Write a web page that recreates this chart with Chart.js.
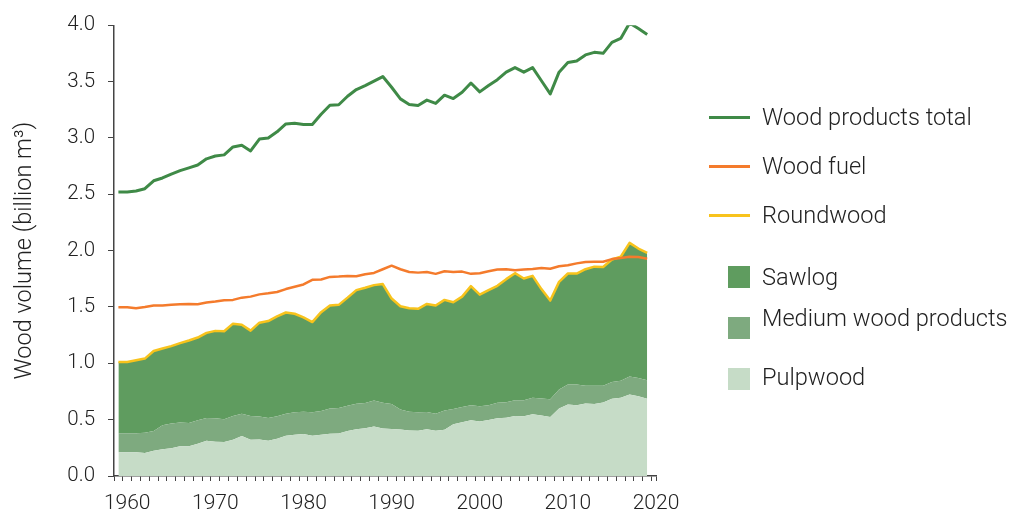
<!DOCTYPE html>
<html>
<head>
<meta charset="utf-8">
<script src="https://cdn.jsdelivr.net/npm/chart.js@4/dist/chart.umd.min.js"></script>
<style>
  html, body { margin: 0; padding: 0; background: #fff; }
  #wrap { position: relative; width: 1024px; height: 512px; font-family: Roboto, "Open Sans", sans-serif; }
  #chart { position: absolute; left: 0; top: 0; }
  .lg { position: absolute; color: #222; font-size: 23.6px; font-weight: 300; line-height: 26px; white-space: nowrap; }
  .sw-line { position: absolute; left: 709px; width: 41px; height: 3px; }
  .sw-box { position: absolute; left: 728px; width: 22px; height: 22px; }
</style>
</head>
<body>
<div id="wrap">
  <canvas id="chart" width="1024" height="512"></canvas>
  <div id="legend"></div>
</div>
<script>
// =====================================================
// DATA (billion m3)
// =====================================================
const years = [1959, 1960, 1961, 1962, 1963, 1964, 1965, 1966, 1967, 1968,
  1969, 1970, 1971, 1972, 1973, 1974, 1975, 1976, 1977, 1978,
  1979, 1980, 1981, 1982, 1983, 1984, 1985, 1986, 1987, 1988,
  1989, 1990, 1991, 1992, 1993, 1994, 1995, 1996, 1997, 1998,
  1999, 2000, 2001, 2002, 2003, 2004, 2005, 2006, 2007, 2008,
  2009, 2010, 2011, 2012, 2013, 2014, 2015, 2016, 2017, 2018, 2019];

const woodProductsTotal = [2.52, 2.52, 2.53, 2.55, 2.62, 2.645, 2.68, 2.71, 2.735, 2.76,
  2.815, 2.84, 2.85, 2.92, 2.935, 2.885, 2.99, 3.00, 3.055, 3.125,
  3.13, 3.12, 3.12, 3.21, 3.29, 3.295, 3.37, 3.43, 3.465, 3.505,
  3.545, 3.45, 3.347, 3.298, 3.289, 3.336, 3.307, 3.38, 3.35, 3.406,
  3.488, 3.409, 3.465, 3.517, 3.584, 3.625, 3.584, 3.625, 3.508, 3.391,
  3.584, 3.669, 3.684, 3.737, 3.76, 3.751, 3.848, 3.883, 4.02, 3.971, 3.918];

const woodFuel = [1.498, 1.498, 1.489, 1.50, 1.513, 1.513, 1.52, 1.525, 1.527, 1.525,
  1.539, 1.548, 1.56, 1.563, 1.583, 1.592, 1.612, 1.621, 1.633, 1.659,
  1.68, 1.70, 1.741, 1.744, 1.767, 1.77, 1.776, 1.773, 1.791, 1.802,
  1.835, 1.867, 1.835, 1.811, 1.805, 1.811, 1.794, 1.817, 1.811, 1.814,
  1.794, 1.80, 1.817, 1.832, 1.835, 1.826, 1.832, 1.838, 1.846, 1.84,
  1.861, 1.87, 1.887, 1.899, 1.902, 1.902, 1.925, 1.934, 1.946, 1.943, 1.928];

const roundwood = [1.012, 1.012, 1.027, 1.042, 1.109, 1.132, 1.153, 1.179, 1.203, 1.229,
  1.27, 1.288, 1.285, 1.352, 1.343, 1.29, 1.361, 1.375, 1.416, 1.451,
  1.44, 1.407, 1.366, 1.454, 1.513, 1.519, 1.583, 1.65, 1.671, 1.694,
  1.703, 1.575, 1.507, 1.489, 1.484, 1.527, 1.513, 1.563, 1.542, 1.592,
  1.685, 1.609, 1.65, 1.688, 1.747, 1.80, 1.753, 1.776, 1.659, 1.557,
  1.723, 1.797, 1.797, 1.835, 1.858, 1.855, 1.922, 1.946, 2.069, 2.019, 1.981];

const pulpwood = [0.21, 0.21, 0.21, 0.205, 0.225, 0.237, 0.246, 0.263, 0.263, 0.287,
  0.313, 0.304, 0.301, 0.322, 0.354, 0.322, 0.325, 0.313, 0.331, 0.357,
  0.366, 0.372, 0.357, 0.366, 0.375, 0.377, 0.40, 0.415, 0.424, 0.439,
  0.421, 0.418, 0.413, 0.404, 0.401, 0.415, 0.401, 0.41, 0.459, 0.477,
  0.495, 0.483, 0.497, 0.512, 0.518, 0.533, 0.53, 0.547, 0.538, 0.524,
  0.60, 0.635, 0.629, 0.644, 0.638, 0.653, 0.685, 0.694, 0.723, 0.708, 0.685];

const mediumWood = [0.17, 0.17, 0.17, 0.178, 0.175, 0.213, 0.219, 0.211, 0.208, 0.208,
  0.202, 0.208, 0.202, 0.211, 0.199, 0.211, 0.202, 0.202, 0.199, 0.196,
  0.199, 0.199, 0.208, 0.21, 0.225, 0.226, 0.223, 0.226, 0.223, 0.231,
  0.229, 0.222, 0.178, 0.167, 0.164, 0.153, 0.152, 0.172, 0.135, 0.135,
  0.134, 0.137, 0.132, 0.138, 0.137, 0.14, 0.143, 0.147, 0.15, 0.158,
  0.167, 0.176, 0.182, 0.158, 0.164, 0.149, 0.149, 0.152, 0.161, 0.161, 0.164];

const sawlog = [0.632, 0.632, 0.647, 0.659, 0.709, 0.682, 0.688, 0.705, 0.732, 0.734,
  0.755, 0.776, 0.782, 0.819, 0.79, 0.757, 0.834, 0.86, 0.886, 0.898,
  0.875, 0.836, 0.801, 0.878, 0.913, 0.916, 0.96, 1.009, 1.024, 1.024,
  1.053, 0.935, 0.916, 0.918, 0.919, 0.959, 0.96, 0.981, 0.948, 0.98,
  1.056, 0.989, 1.021, 1.038, 1.092, 1.127, 1.08, 1.082, 0.971, 0.875,
  0.956, 0.986, 0.986, 1.033, 1.056, 1.053, 1.088, 1.10, 1.185, 1.15, 1.132];

const yTicks = [0, 0.5, 1.0, 1.5, 2.0, 2.5, 3.0, 3.5, 4.0];
const xLabels = [1960, 1970, 1980, 1990, 2000, 2010, 2020];

// =====================================================
// COLOURS
// =====================================================
const C = {
  total: '#3f8a47',
  fuel: '#f47b2c',
  round: '#f8c31c',
  sawlog: '#5f9c5f',
  medium: '#7eaa7f',
  pulp: '#c6dcc7',
  axis: '#444',
  text: '#222'
};

const FONT = 'Roboto, "Open Sans", sans-serif';

function pts(vals) {
  return years.map((y, i) => ({ x: y, y: vals[i] }));
}

// =====================================================
// CHART
// =====================================================
const ctx = document.getElementById('chart');

new Chart(ctx, {
  type: 'line',
  data: {
    datasets: [
      { label: 'Wood products total', data: pts(woodProductsTotal), stack: 'total',
        borderColor: C.total, borderWidth: 3, fill: false },
      { label: 'Wood fuel', data: pts(woodFuel), stack: 'fuel',
        borderColor: C.fuel, borderWidth: 2.5, fill: false },
      { label: 'Roundwood', data: pts(roundwood), stack: 'round',
        borderColor: C.round, borderWidth: 2.5, fill: false },
      { label: 'Pulpwood', data: pts(pulpwood), stack: 'wood',
        borderWidth: 0, borderColor: C.pulp, backgroundColor: C.pulp, fill: 'origin' },
      { label: 'Medium wood products', data: pts(mediumWood), stack: 'wood',
        borderWidth: 0, borderColor: C.medium, backgroundColor: C.medium, fill: '-1' },
      { label: 'Sawlog', data: pts(sawlog), stack: 'wood',
        borderWidth: 0, borderColor: C.sawlog, backgroundColor: C.sawlog, fill: '-1' }
    ]
  },
  options: {
    responsive: false,
    animation: false,
    layout: { padding: { top: 20, right: 368, bottom: 0, left: 0 } },
    elements: {
      point: { radius: 0 },
      line: { tension: 0, borderJoinStyle: 'round' }
    },
    plugins: {
      legend: { display: false },
      tooltip: { enabled: false }
    },
    scales: {
      x: {
        type: 'linear',
        min: 1958.5,
        max: 2020,
        afterBuildTicks: (scale) => {
          const t = [];
          for (let v = 1958.5; v < 2020; v += 1) t.push({ value: v });
          xLabels.forEach(v => t.push({ value: v }));
          t.sort((a, b) => a.value - b.value);
          scale.ticks = t;
        },
        afterFit: (scale) => { scale.height = 36; },
        ticks: {
          autoSkip: false,
          maxRotation: 0,
          padding: 10,
          color: C.text,
          font: { family: FONT, size: 21, weight: 300 },
          callback: (v) => xLabels.includes(v) ? String(v) : ''
        },
        grid: {
          drawOnChartArea: false,
          tickLength: 5,
          tickColor: (c) => (c.tick && Number.isInteger(c.tick.value) && c.tick.value !== 2020) ? 'rgba(0,0,0,0)' : C.axis
        },
        border: { color: C.axis, width: 1.5 }
      },
      y: {
        stacked: true,
        min: 0,
        max: 4,
        afterBuildTicks: (scale) => { scale.ticks = yTicks.map(v => ({ value: v })); },
        afterFit: (scale) => { scale.width = 114; },
        ticks: {
          padding: 13,
          color: C.text,
          font: { family: FONT, size: 20.5, weight: 300 },
          callback: (v) => v.toFixed(1)
        },
        grid: { drawOnChartArea: false, tickLength: 6, tickColor: C.axis },
        border: { color: C.axis, width: 1.5 },
        title: {
          display: true,
          text: 'Wood volume (billion m³)',
          color: C.text,
          font: { family: FONT, size: 23.5, weight: 300 },
          padding: { top: 11, bottom: 0 }
        }
      }
    }
  }
});

// =====================================================
// LEGEND (html, right side)
// =====================================================
const legendItems = [
  { text: 'Wood products total', color: C.total, kind: 'line', y: 117 },
  { text: 'Wood fuel', color: C.fuel, kind: 'line', y: 166 },
  { text: 'Roundwood', color: C.round, kind: 'line', y: 215 },
  { text: 'Sawlog', color: C.sawlog, kind: 'box', y: 277, boxY: 277 },
  { text: 'Medium wood products', color: C.medium, kind: 'box', y: 318, boxY: 328 },
  { text: 'Pulpwood', color: C.pulp, kind: 'box', y: 377, boxY: 379 }
];

const legend = document.getElementById('legend');
legendItems.forEach(it => {
  const sw = document.createElement('div');
  if (it.kind === 'line') {
    sw.className = 'sw-line';
    sw.style.top = (it.y - 1.5) + 'px';
  } else {
    sw.className = 'sw-box';
    sw.style.top = (it.boxY - 11) + 'px';
  }
  sw.style.background = it.color;
  legend.appendChild(sw);

  const t = document.createElement('div');
  t.className = 'lg';
  t.style.left = '762px';
  t.style.top = (it.y - 13) + 'px';
  t.textContent = it.text;
  legend.appendChild(t);
});
</script>
</body>
</html>
